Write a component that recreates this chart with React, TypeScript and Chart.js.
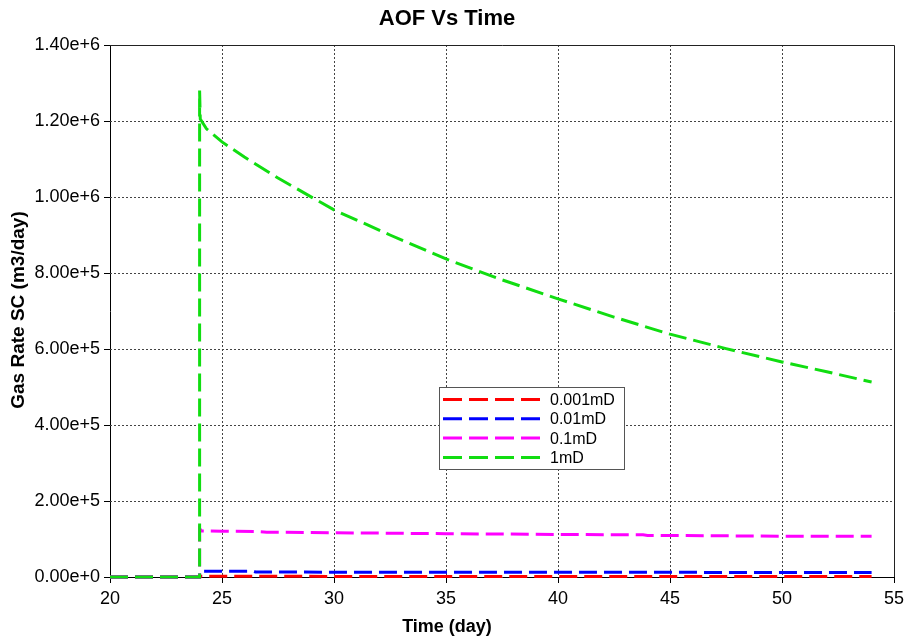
import React, { useEffect, useRef } from 'react';
import { Chart, registerables } from 'chart.js';

Chart.register(...registerables);

// ---------- data ----------
const chartTitle = 'AOF Vs Time';
const xAxisTitle = 'Time (day)';
const yAxisTitle = 'Gas Rate SC (m3/day)';

const xTickValues = [20, 25, 30, 35, 40, 45, 50, 55];
const yTickValues = [0, 2e5, 4e5, 6e5, 8e5, 1e6, 1.2e6, 1.4e6];

const seriesNames = ['0.001mD', '0.01mD', '0.1mD', '1mD'];
const seriesColors = ['#ff0000', '#0000ff', '#ff00ff', '#11dd11'];

const time001 = [20, 24, 24, 30, 40, 54];
const rate001 = [0, 0, 2000, 1600, 1500, 1500];

const time01 = [20, 24, 24, 26.4, 26.5, 35, 45, 54];
const rate01 = [0, 0, 15500, 15000, 13000, 12500, 12200, 12000];

const time1 = [20, 24, 24, 24.1, 25, 26.5, 27, 30, 35, 40, 43.8, 44, 50, 54];
const rate1 = [0, 0, 127000, 121000, 120500, 120000, 118000, 116500, 114000, 112000, 111000, 109500, 107500, 107000];

const time10 = [20, 24, 24, 24.03, 24.3, 25, 26, 27.5, 30, 32.5, 35, 37.5, 40, 42.5, 45, 47.5, 50, 52, 54];
const rate10 = [0, 0, 1280000, 1205000, 1180000, 1145000, 1105000, 1050000, 966000, 900000, 837000, 782000, 732000, 684000, 639000, 601000, 566000, 540000, 513000];

const seriesTimes = [time001, time01, time1, time10];
const seriesRates = [rate001, rate01, rate1, rate10];

const FONT = '"Liberation Sans", Arial, sans-serif';

const gridFramePlugin = {
  id: 'gridFrame',
  beforeDatasetsDraw(chart: any) {
    const { ctx, chartArea, scales } = chart;
    const { left, right, top, bottom } = chartArea;
    const xs = scales.x;
    const ys = scales.y;
    ctx.save();
    ctx.lineWidth = 1;
    ctx.strokeStyle = '#444';
    ctx.setLineDash([2, 2]);
    xTickValues.slice(1, -1).forEach((v) => {
      const px = Math.round(xs.getPixelForValue(v)) + 0.5;
      ctx.beginPath();
      ctx.moveTo(px, top);
      ctx.lineTo(px, bottom);
      ctx.stroke();
    });
    yTickValues.slice(1, -1).forEach((v) => {
      const py = Math.round(ys.getPixelForValue(v)) + 0.5;
      ctx.beginPath();
      ctx.moveTo(left, py);
      ctx.lineTo(right, py);
      ctx.stroke();
    });
    ctx.setLineDash([]);
    ctx.strokeStyle = '#222';
    ctx.beginPath();
    ctx.moveTo(left, Math.round(top) + 0.5);
    ctx.lineTo(Math.round(right) + 0.5, Math.round(top) + 0.5);
    ctx.lineTo(Math.round(right) + 0.5, bottom);
    ctx.stroke();
    ctx.restore();
  },
};

const textPlugin = {
  id: 'textsAndLegend',
  afterDraw(chart: any) {
    const { ctx } = chart;
    ctx.save();
    ctx.fillStyle = '#000';
    ctx.textAlign = 'center';
    ctx.textBaseline = 'middle';
    ctx.font = `bold 22px ${FONT}`;
    ctx.fillText(chartTitle, 447, 19);
    ctx.font = `bold 18px ${FONT}`;
    ctx.fillText(xAxisTitle, 447, 627);
    ctx.save();
    ctx.translate(19, 310);
    ctx.rotate(-Math.PI / 2);
    ctx.font = `bold 19px ${FONT}`;
    ctx.fillText(yAxisTitle, 0, 0);
    ctx.restore();

    // legend box
    const bx = 439.5, by = 387.5, bw = 185, bh = 82;
    ctx.fillStyle = '#fff';
    ctx.fillRect(bx, by, bw, bh);
    ctx.strokeStyle = '#555';
    ctx.lineWidth = 1;
    ctx.strokeRect(bx, by, bw, bh);
    ctx.font = `16px ${FONT}`;
    ctx.textAlign = 'left';
    seriesNames.forEach((name, i) => {
      const ry = 399.5 + i * 19.3;
      ctx.strokeStyle = seriesColors[i];
      ctx.lineWidth = 3;
      ctx.setLineDash([19, 7]);
      ctx.beginPath();
      ctx.moveTo(443, ry);
      ctx.lineTo(541, ry);
      ctx.stroke();
      ctx.setLineDash([]);
      ctx.fillStyle = '#000';
      ctx.fillText(name, 550, ry + 1);
    });
    ctx.restore();
  },
};

export default function App() {
  const canvasRef = useRef<HTMLCanvasElement | null>(null);

  useEffect(() => {
    document.body.style.margin = '0';
    const canvas = canvasRef.current;
    if (!canvas) return;
    const datasets = seriesNames.map((name, i) => ({
      label: name,
      data: seriesTimes[i].map((t, j) => ({ x: t, y: seriesRates[i][j] })),
      borderColor: seriesColors[i],
      backgroundColor: seriesColors[i],
      borderWidth: 3,
      borderDash: [18, 7],
      borderCapStyle: 'butt' as const,
      pointRadius: 0,
      tension: 0,
      fill: false,
      clip: false as any,
      order: 3 - i,
    }));

    const chart = new Chart(canvas, {
      type: 'line',
      data: { datasets },
      options: {
        animation: false,
        responsive: false,
        devicePixelRatio: 1,
        layout: { padding: { top: 45, right: 12, left: 0, bottom: 0 } },
        plugins: {
          legend: { display: false },
          title: { display: false },
          tooltip: { enabled: false },
        },
        scales: {
          x: {
            type: 'linear',
            min: 20,
            max: 55,
            afterFit: (s: any) => {
              s.height = 65;
              s.paddingLeft = 0;
              s.paddingRight = 0;
            },
            ticks: {
              stepSize: 5,
              color: '#000',
              font: { family: FONT, size: 18 },
              padding: 5,
              maxRotation: 0,
              autoSkip: false,
            },
            grid: {
              drawOnChartArea: false,
              drawTicks: true,
              tickLength: 6,
              tickColor: '#000',
              tickWidth: 1,
              tickBorderDash: [],
            },
            border: { display: true, color: '#000', width: 1 },
          },
          y: {
            type: 'linear',
            min: 0,
            max: 1.4e6,
            afterFit: (s: any) => {
              s.width = 110;
              s.paddingTop = 0;
              s.paddingBottom = 0;
            },
            ticks: {
              stepSize: 2e5,
              color: '#000',
              font: { family: FONT, size: 18 },
              padding: 4,
              autoSkip: false,
              callback: (v: any) => Number(v).toExponential(2),
            },
            grid: {
              drawOnChartArea: false,
              drawTicks: true,
              tickLength: 6,
              tickColor: '#000',
              tickWidth: 1,
              tickBorderDash: [],
            },
            border: { display: true, color: '#000', width: 1 },
          },
        },
      },
      plugins: [gridFramePlugin, textPlugin],
    });
    return () => chart.destroy();
  }, []);

  return (
    <div style={{ width: 906, height: 642, background: '#fff' }}>
      <canvas ref={canvasRef} width={906} height={642} style={{ display: 'block' }} />
    </div>
  );
}
